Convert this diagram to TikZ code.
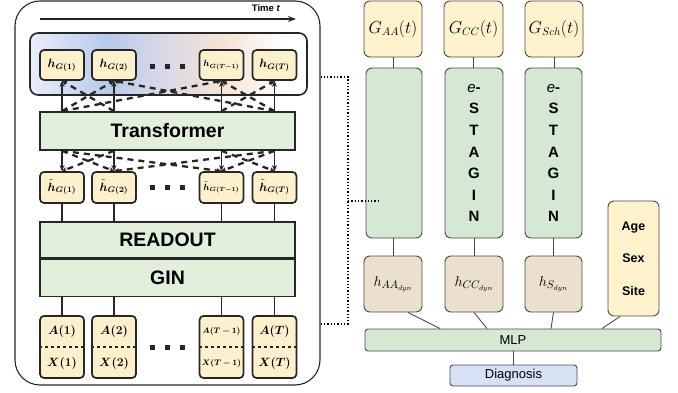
\documentclass[tikz,border=0pt]{standalone}
\usepackage{amsmath}
\usepackage{bm}
\usepackage{fontspec}
\setmainfont{Liberation Sans}
\usetikzlibrary{arrows.meta,positioning}

\definecolor{Yel}{HTML}{FCF1CC}
\definecolor{YelR}{HTML}{FFF2CC}
\definecolor{GreenL}{HTML}{E2EFDA}
\definecolor{GreenR}{HTML}{D5E8D4}
\definecolor{Beige}{HTML}{EBDFCE}
\definecolor{Diag}{HTML}{D6E2F4}
\definecolor{Edge}{HTML}{262626}
\definecolor{EdgeR}{HTML}{4A4A4A}

\pgfdeclarehorizontalshading{timeshade}{100bp}{rgb(0bp)=(0.91,0.93,0.98); rgb(25bp)=(0.91,0.93,0.98); rgb(39bp)=(0.72,0.79,0.92); rgb(49bp)=(0.85,0.85,0.91); rgb(60bp)=(0.97,0.89,0.83); rgb(71bp)=(1,1,1); rgb(100bp)=(1,1,1)}

\tikzset{
  hbox/.style={draw=Edge, line width=1.7pt, fill=Yel, rounded corners=4pt, minimum width=44pt, minimum height=30pt, inner sep=0pt, font=\fontsize{12}{14}\selectfont},
  axbox/.style={hbox, minimum height=62pt, align=center, font=\fontsize{11.5}{32}\selectfont},
  layer/.style={draw=Edge, line width=1.6pt, fill=GreenL, minimum width=255pt, inner sep=0pt, font=\bfseries\fontsize{19.5}{22}\selectfont},
  rbox/.style={draw=EdgeR, line width=0.9pt, rounded corners=6pt, inner sep=0pt},
  attn/.style={-{Stealth[length=5pt,width=5pt]}, line width=2.3pt, dash pattern=on 6pt off 5pt, Edge},
  flow/.style={-{Stealth[length=6pt,width=5pt]}, line width=1.4pt, Edge},
  link/.style={line width=1.4pt, Edge},
  rlink/.style={line width=0.9pt, EdgeR}
}

\begin{document}
\begin{tikzpicture}[x=1pt, y=-1pt]

 \useasboundingbox (0,0) rectangle (678,393);

 %%%%%%%%%% Left panel %%%%%%%%%%
 \node[draw=Edge, line width=1.1pt, rounded corners=25pt, minimum width=305pt, minimum height=384pt, inner sep=0pt] (panel) at (167.5,193) {};

 \coordinate (t0) at (40,19) ;
 \coordinate (t1) at (296,19) ;
 \draw [-{Stealth[length=8pt,width=6pt]}, line width=1.6pt, Edge] (t0) -- (t1) ;
 \node[font=\bfseries\fontsize{9.5}{10}\selectfont] (time) at (266,8) {Time \textit{t}};

 \node[draw=Edge, line width=1.6pt, rounded corners=8pt, shading=timeshade, minimum width=277pt, minimum height=62pt, inner sep=0pt] (group) at (168.5,64) {};

 % Output embeddings
 \node[hbox] (h1) at (62,65) {$\bm{h}_{\bm{G(1)}}$};
 \node[hbox] (h2) at (114,65) {$\bm{h}_{\bm{G(2)}}$};
 \node[hbox, font=\fontsize{9}{10}\selectfont] (h3) at (221.5,65) {$\bm{h}_{\bm{G(T-1)}}$};
 \node[hbox] (h4) at (274.5,65) {$\bm{h}_{\bm{G(T)}}$};

 \node[layer, minimum height=38pt] (tr) at (167.5,131) {Transformer};

 % Graph embeddings
 \node[hbox, minimum height=31pt] (g1) at (62,187.5) {$\tilde{\bm{h}}_{\bm{G(1)}}$};
 \node[hbox, minimum height=31pt] (g2) at (114,187.5) {$\tilde{\bm{h}}_{\bm{G(2)}}$};
 \node[hbox, minimum height=31pt, font=\fontsize{9}{10}\selectfont] (g3) at (221.5,187.5) {$\tilde{\bm{h}}_{\bm{G(T-1)}}$};
 \node[hbox, minimum height=31pt] (g4) at (274.5,187.5) {$\tilde{\bm{h}}_{\bm{G(T)}}$};

 \node[layer, minimum height=36pt] (ro) at (167.5,240) {READOUT};
 \node[layer, minimum height=37pt, below=0pt of ro] (gin) {GIN};

 % Input graphs
 \node[axbox] (a1) at (62,347) {$\bm{A(1)}$\\$\bm{X(1)}$};
 \node[axbox] (a2) at (114,347) {$\bm{A(2)}$\\$\bm{X(2)}$};
 \node[axbox, font=\fontsize{8}{32}\selectfont] (a3) at (221.5,347) {$\bm{A(T-1)}$\\$\bm{X(T-1)}$};
 \node[axbox] (a4) at (274.5,347) {$\bm{A(T)}$\\$\bm{X(T)}$};

 \draw [line width=1.2pt, dashed, Edge] (a1.west) -- (a1.east) ;
 \draw [line width=1.2pt, dashed, Edge] (a2.west) -- (a2.east) ;
 \draw [line width=1.2pt, dashed, Edge] (a3.west) -- (a3.east) ;
 \draw [line width=1.2pt, dashed, Edge] (a4.west) -- (a4.east) ;

 % Dots
 \fill [Edge] (150,64) rectangle (155,69) ;
 \fill [Edge] (165,64) rectangle (170,69) ;
 \fill [Edge] (180,64) rectangle (185,69) ;
 \fill [Edge] (150,185) rectangle (155,190) ;
 \fill [Edge] (165,185) rectangle (170,190) ;
 \fill [Edge] (180,185) rectangle (185,190) ;
 \fill [Edge] (150,345) rectangle (155,350) ;
 \fill [Edge] (165,345) rectangle (170,350) ;
 \fill [Edge] (180,345) rectangle (185,350) ;

 %%%%%%%%%%% Connections %%%%%%%%%%%
 \draw [link] (a1) -- (a1 |- gin.south) ;
 \draw [link] (a2) -- (a2 |- gin.south) ;
 \draw [link] (a3) -- (a3 |- gin.south) ;
 \draw [link] (a4) -- (a4 |- gin.south) ;

 \draw [link] (g1.south) -- (g1 |- ro.north) ;
 \draw [link] (g2.south) -- (g2 |- ro.north) ;
 \draw [link] (g3.south) -- (g3 |- ro.north) ;
 \draw [link] (g4.south) -- (g4 |- ro.north) ;

 \draw [flow] (tr.north -| h1) -- (h1.south) ;
 \draw [flow] (tr.north -| h2) -- (h2.south) ;
 \draw [flow] (tr.north -| h3) -- (h3.south) ;
 \draw [flow] (tr.north -| h4) -- (h4.south) ;

 \draw [flow] (tr.south -| g1) -- (g1.north) ;
 \draw [flow] (tr.south -| g2) -- (g2.north) ;
 \draw [flow] (tr.south -| g3) -- (g3.north) ;
 \draw [flow] (tr.south -| g4) -- (g4.north) ;

 %%%%%%%%%%% Attention %%%%%%%%%%%
 \draw [attn] (tr.north -| h1) -- (h2.south) ;
 \draw [attn] (tr.north -| h2) -- (h1.south) ;
 \draw [attn] (tr.north -| h1) -- (h3.south) ;
 \draw [attn] (tr.north -| h3) -- (h4.south) ;
 \draw [attn] (tr.north -| h4) -- (h3.south) ;
 \draw [attn] (tr.north -| h4) -- (h2.south) ;

 \draw [attn] (tr.south -| g1) -- (g2.north) ;
 \draw [attn] (tr.south -| g2) -- (g1.north) ;
 \draw [attn] (tr.south -| g1) -- (g3.north) ;
 \draw [attn] (tr.south -| g3) -- (g4.north) ;
 \draw [attn] (tr.south -| g4) -- (g3.north) ;
 \draw [attn] (tr.south -| g4) -- (g2.north) ;

 %%%%%%%%%% Right part %%%%%%%%%%
 \node[rbox, fill=YelR, minimum width=58pt, minimum height=56pt, font=\fontsize{16}{18}\selectfont] (gaa) at (393,29) {$G_{AA}(t)$};
 \node[rbox, fill=YelR, minimum width=59pt, minimum height=56pt, font=\fontsize{16}{18}\selectfont] (gcc) at (473.5,29) {$G_{CC}(t)$};
 \node[rbox, fill=YelR, minimum width=58pt, minimum height=56pt, font=\fontsize{16}{18}\selectfont] (gsch) at (554,29) {$G_{Sch}(t)$};

 \node[rbox, fill=GreenR, minimum width=56pt, minimum height=170pt] (staa) at (394,153) {};
 \node[rbox, fill=GreenR, minimum width=58pt, minimum height=170pt, align=center, font=\bfseries\fontsize{15}{21.6}\selectfont] (stcc) at (474,153) {\textit{\mdseries e}-\\S\\T\\A\\G\\I\\N};
 \node[rbox, fill=GreenR, minimum width=57pt, minimum height=170pt, align=center, font=\bfseries\fontsize{15}{21.6}\selectfont] (stsch) at (553.5,153) {\textit{\mdseries e}-\\S\\T\\A\\G\\I\\N};

 \node[rbox, fill=Beige, minimum width=58pt, minimum height=56pt, font=\fontsize{15}{18}\selectfont] (haa) at (393,284) {$h_{AA_{dyn}}$};
 \node[rbox, fill=Beige, minimum width=58pt, minimum height=56pt, font=\fontsize{15}{18}\selectfont] (hcc) at (474,284) {$h_{CC_{dyn}}$};
 \node[rbox, fill=Beige, minimum width=57pt, minimum height=56pt, font=\fontsize{15}{18}\selectfont] (hs) at (553.5,284) {$h_{S_{dyn}}$};

 \node[rbox, fill=YelR, minimum width=51pt, minimum height=115pt, align=center, font=\bfseries\fontsize{12.5}{32.5}\selectfont] (demo) at (633.5,258.5) {Age\\Sex\\Site};

 \node[rbox, rounded corners=3pt, fill=GreenR, minimum width=296pt, minimum height=22pt, font=\fontsize{13}{15}\selectfont] (mlp) at (513,340) {MLP};
 \node[rbox, rounded corners=3pt, fill=Diag, minimum width=127pt, minimum height=21pt, font=\fontsize{13}{15}\selectfont] (diag) at (513.5,375.5) {Diagnosis};

 \draw [rlink] (gaa.south) -- (gaa.south |- staa.north) ;
 \draw [rlink] (gcc.south) -- (gcc.south |- stcc.north) ;
 \draw [rlink] (gsch.south) -- (gsch.south |- stsch.north) ;

 \draw [rlink] (staa.south -| haa) -- (haa.north) ;
 \draw [rlink] (stcc.south) -- (hcc.north) ;
 \draw [rlink] (stsch.south) -- (hs.north) ;

 \draw [rlink] ([xshift=15pt]haa.south) -- ([xshift=-73pt]mlp.north) ;
 \draw [rlink] (hcc.south) -- ([xshift=-26pt]mlp.north) ;
 \draw [rlink] (hs.south) -- ([xshift=38pt]mlp.north) ;
 \draw [rlink] ([xshift=-13.5pt]demo.south) -- ([xshift=89pt]mlp.north) ;
 \draw [rlink] (mlp.south -| diag) -- (diag.north) ;

 %%%%%%%%%%% Dotted bracket %%%%%%%%%%%
 \coordinate (br1) at (348,77) ;
 \coordinate (br2) at (348,324) ;
 \coordinate (br3) at (348,201) ;
 \draw [line width=1.3pt, dotted] (panel.east |- br1) -- (br1) -- (br2) -- (panel.east |- br2) ;
 \draw [line width=1.3pt, dotted] (br3) -- ([xshift=14pt]staa.west |- br3) ;

\end{tikzpicture}
\end{document}
